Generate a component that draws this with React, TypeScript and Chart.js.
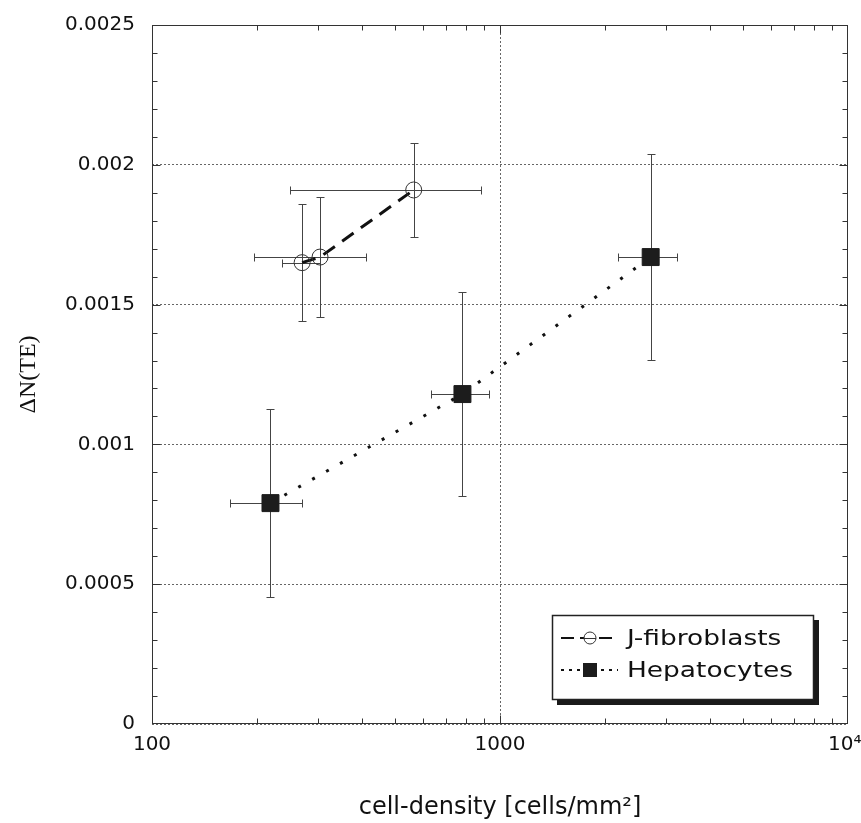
import React, { useEffect, useRef } from 'react';
import { Chart, registerables } from 'chart.js';

Chart.register(...registerables);

// ---- data ----
const seriesLabels = ['J-fibroblasts', 'Hepatocytes'];

const fibroX = [270, 304, 565];
const fibroY = [0.00165, 0.00167, 0.00191];
const fibroXErr = [33, 108, 316];
const fibroYErr = [0.00021, 0.000215, 0.000167];

const hepX = [219, 780, 2710];
const hepY = [0.00079, 0.00118, 0.00167];
const hepXErr = [51, 147, 523];
const hepYErr = [0.000335, 0.000365, 0.000367];

const xTickValues = [100, 1000, 10000];
const xTickLabels = ['100', '1000', '10⁴ '];
const yTickValues = [0, 0.0005, 0.001, 0.0015, 0.002, 0.0025];
const yTickLabels = ['0', '0.0005', '0.001', '0.0015', '0.002', '0.0025'];
const yMinorStep = 0.0001;
const xTitle = 'cell-density [cells/mm²]';
const yTitle = 'ΔN(TE)';

const errorSets = [
  { x: fibroXErr, y: fibroYErr },
  { x: hepXErr, y: hepYErr },
];

const SANS = "'DejaVu Sans', 'Liberation Sans', sans-serif";
const SERIF = "'Liberation Serif', 'DejaVu Serif', serif";

const framePlugin = {
  id: 'frameAndTicks',
  beforeDatasetsDraw(chart: any) {
    const { ctx, chartArea: a, scales } = chart;
    const xs = scales.x;
    const ys = scales.y;
    ctx.save();
    ctx.strokeStyle = '#333';
    ctx.lineWidth = 1;
    ctx.setLineDash([]);
    const L = Math.round(a.left) + 0.5;
    const R = Math.round(a.right) - 0.5;
    const T = Math.round(a.top) + 0.5;
    const B = Math.round(a.bottom) - 0.5;
    ctx.strokeRect(L, T, R - L, B - T);
    ctx.beginPath();
    const nY = Math.round((ys.max - ys.min) / yMinorStep);
    for (let i = 1; i < nY; i++) {
      const py = Math.round(ys.getPixelForValue(ys.min + i * yMinorStep)) + 0.5;
      const len = i % 5 === 0 ? 8 : 5;
      ctx.moveTo(L, py);
      ctx.lineTo(L + len, py);
      ctx.moveTo(R, py);
      ctx.lineTo(R - len, py);
    }
    for (let d = 0; d < xTickValues.length - 1; d++) {
      const dec = xTickValues[d];
      for (let m = 2; m <= 9; m++) {
        const px = Math.round(xs.getPixelForValue(dec * m)) + 0.5;
        ctx.moveTo(px, B);
        ctx.lineTo(px, B - 5);
        ctx.moveTo(px, T);
        ctx.lineTo(px, T + 5);
      }
      if (d > 0) {
        const px = Math.round(xs.getPixelForValue(dec)) + 0.5;
        ctx.moveTo(px, B);
        ctx.lineTo(px, B - 8);
        ctx.moveTo(px, T);
        ctx.lineTo(px, T + 8);
      }
    }
    ctx.stroke();
    ctx.restore();
  },
};

const errorBarPlugin = {
  id: 'errorBars',
  beforeDatasetsDraw(chart: any) {
    const { ctx, scales } = chart;
    const xs = scales.x;
    const ys = scales.y;
    ctx.save();
    ctx.strokeStyle = '#444';
    ctx.lineWidth = 1;
    ctx.setLineDash([]);
    chart.data.datasets.forEach((ds: any, di: number) => {
      const errs = errorSets[di];
      ds.data.forEach((p: any, i: number) => {
        const px = Math.round(xs.getPixelForValue(p.x)) + 0.5;
        const py = Math.round(ys.getPixelForValue(p.y)) + 0.5;
        const x0 = Math.round(xs.getPixelForValue(p.x - errs.x[i])) + 0.5;
        const x1 = Math.round(xs.getPixelForValue(p.x + errs.x[i])) + 0.5;
        const y0 = Math.round(ys.getPixelForValue(p.y - errs.y[i])) + 0.5;
        const y1 = Math.round(ys.getPixelForValue(p.y + errs.y[i])) + 0.5;
        const c = 4;
        ctx.beginPath();
        ctx.moveTo(x0, py);
        ctx.lineTo(x1, py);
        ctx.moveTo(x0, py - c);
        ctx.lineTo(x0, py + c);
        ctx.moveTo(x1, py - c);
        ctx.lineTo(x1, py + c);
        ctx.moveTo(px, y0);
        ctx.lineTo(px, y1);
        ctx.moveTo(px - c, y0);
        ctx.lineTo(px + c, y0);
        ctx.moveTo(px - c, y1);
        ctx.lineTo(px + c, y1);
        ctx.stroke();
      });
    });
    ctx.restore();
  },
};

const legendPlugin = {
  id: 'boxLegend',
  afterDraw(chart: any) {
    const { ctx, chartArea: a } = chart;
    const w = 262;
    const h = 85;
    const right = Math.round(a.right) - 34;
    const bottom = Math.round(a.bottom) - 24;
    const left = right - w;
    const top = bottom - h;
    ctx.save();
    ctx.setLineDash([]);
    ctx.fillStyle = '#1a1a1a';
    ctx.fillRect(left + 5, top + 5, w, h);
    ctx.fillStyle = '#ffffff';
    ctx.fillRect(left, top, w, h);
    ctx.strokeStyle = '#222';
    ctx.lineWidth = 1.5;
    ctx.strokeRect(left + 0.5, top + 0.5, w - 1, h - 1);

    const rows = [top + 23, top + 55];
    chart.data.datasets.forEach((ds: any, i: number) => {
      const ry = rows[i];
      const sx0 = left + 9;
      const sx1 = left + 66;
      const mx = left + 38;
      ctx.save();
      ctx.strokeStyle = '#111';
      ctx.lineWidth = 2;
      ctx.setLineDash(i === 0 ? [13, 6] : [3, 5]);
      ctx.beginPath();
      ctx.moveTo(sx0, ry);
      ctx.lineTo(sx1, ry);
      ctx.stroke();
      ctx.restore();
      if (ds.pointStyle === 'circle') {
        ctx.fillStyle = '#fff';
        ctx.beginPath();
        ctx.arc(mx, ry, 6, 0, Math.PI * 2);
        ctx.fill();
        ctx.strokeStyle = '#333';
        ctx.lineWidth = 1;
        ctx.stroke();
        ctx.beginPath();
        ctx.moveTo(mx - 6, ry + 0.5);
        ctx.lineTo(mx + 6, ry + 0.5);
        ctx.stroke();
      } else {
        ctx.fillStyle = '#1c1c1c';
        ctx.fillRect(mx - 7, ry - 7, 14, 14);
      }
      ctx.save();
      ctx.fillStyle = '#111';
      ctx.font = `22px ${SANS}`;
      ctx.textBaseline = 'middle';
      ctx.textAlign = 'left';
      ctx.translate(left + 75, ry + 1);
      ctx.scale(1.2, 1);
      ctx.fillText(ds.label, 0, 0);
      ctx.restore();
    });
    ctx.restore();
  },
};

export default function App() {
  const canvasRef = useRef<HTMLCanvasElement | null>(null);

  useEffect(() => {
    const canvas = canvasRef.current;
    if (!canvas) return;
    const chart = new Chart(canvas, {
      type: 'scatter',
      data: {
        datasets: [
          {
            label: seriesLabels[0],
            data: fibroX.map((x, i) => ({ x, y: fibroY[i] })),
            showLine: true,
            borderColor: '#111',
            borderWidth: 3,
            borderDash: [14, 9],
            pointStyle: 'circle',
            pointRadius: 8,
            pointBorderWidth: 1,
            pointBorderColor: '#333',
            pointBackgroundColor: 'rgba(0,0,0,0)',
          },
          {
            label: seriesLabels[1],
            data: hepX.map((x, i) => ({ x, y: hepY[i] })),
            showLine: true,
            borderColor: '#111',
            borderWidth: 3,
            borderDash: [3, 13],
            pointStyle: 'rect',
            pointRadius: 12,
            pointBorderWidth: 1,
            pointBorderColor: '#1c1c1c',
            pointBackgroundColor: '#1c1c1c',
          },
        ],
      } as any,
      options: {
        animation: false,
        responsive: false,
        maintainAspectRatio: false,
        layout: { padding: { left: 0, top: 25, right: 13, bottom: 0 } },
        plugins: {
          legend: { display: false },
          tooltip: { enabled: false },
        },
        scales: {
          x: {
            type: 'logarithmic',
            position: 'bottom',
            min: 100,
            max: 10000,
            afterBuildTicks: (s: any) => {
              s.ticks = xTickValues.map((v) => ({ value: v }));
            },
            afterFit: (s: any) => {
              s.height = 99;
              s.paddingLeft = 0;
              s.paddingRight = 0;
            },
            ticks: {
              autoSkip: false,
              maxRotation: 0,
              minRotation: 0,
              padding: 9,
              color: '#111',
              font: { family: SANS, size: 20 },
              callback: (_v: any, i: number) => xTickLabels[i],
            },
            grid: {
              drawTicks: false,
              lineWidth: 1,
              color: (c: any) =>
                c.tick && c.tick.value === xTickValues[1] ? '#666' : 'rgba(0,0,0,0)',
              borderDash: [2, 2],
            },
            border: { display: false, dash: [2, 2] },
            title: {
              display: true,
              text: xTitle,
              color: '#111',
              font: { family: SANS, size: 24 },
              padding: { top: 0, bottom: 1 },
            },
          },
          y: {
            type: 'linear',
            position: 'left',
            min: 0,
            max: 0.0025,
            afterBuildTicks: (s: any) => {
              s.ticks = yTickValues.map((v) => ({ value: v }));
            },
            afterFit: (s: any) => {
              s.width = 152;
              s.paddingTop = 0;
              s.paddingBottom = 0;
            },
            ticks: {
              autoSkip: false,
              padding: 17,
              color: '#111',
              font: { family: SANS, size: 20 },
              callback: (_v: any, i: number) => yTickLabels[i],
            },
            grid: {
              drawTicks: false,
              lineWidth: 1,
              color: '#666',
              borderDash: [2, 2],
            },
            border: { display: false, dash: [2, 2] },
            title: {
              display: true,
              text: yTitle,
              color: '#111',
              font: { family: SERIF, size: 24 },
              padding: { top: 14, bottom: 0 },
            },
          },
        },
      } as any,
      plugins: [framePlugin, errorBarPlugin, legendPlugin],
    });
    return () => chart.destroy();
  }, []);

  return (
    <div style={{ position: 'fixed', left: 0, top: 0, width: 861, height: 823, background: '#fff' }}>
      <canvas
        ref={canvasRef}
        width={861}
        height={823}
        style={{ display: 'block', width: 861, height: 823 }}
      />
    </div>
  );
}
